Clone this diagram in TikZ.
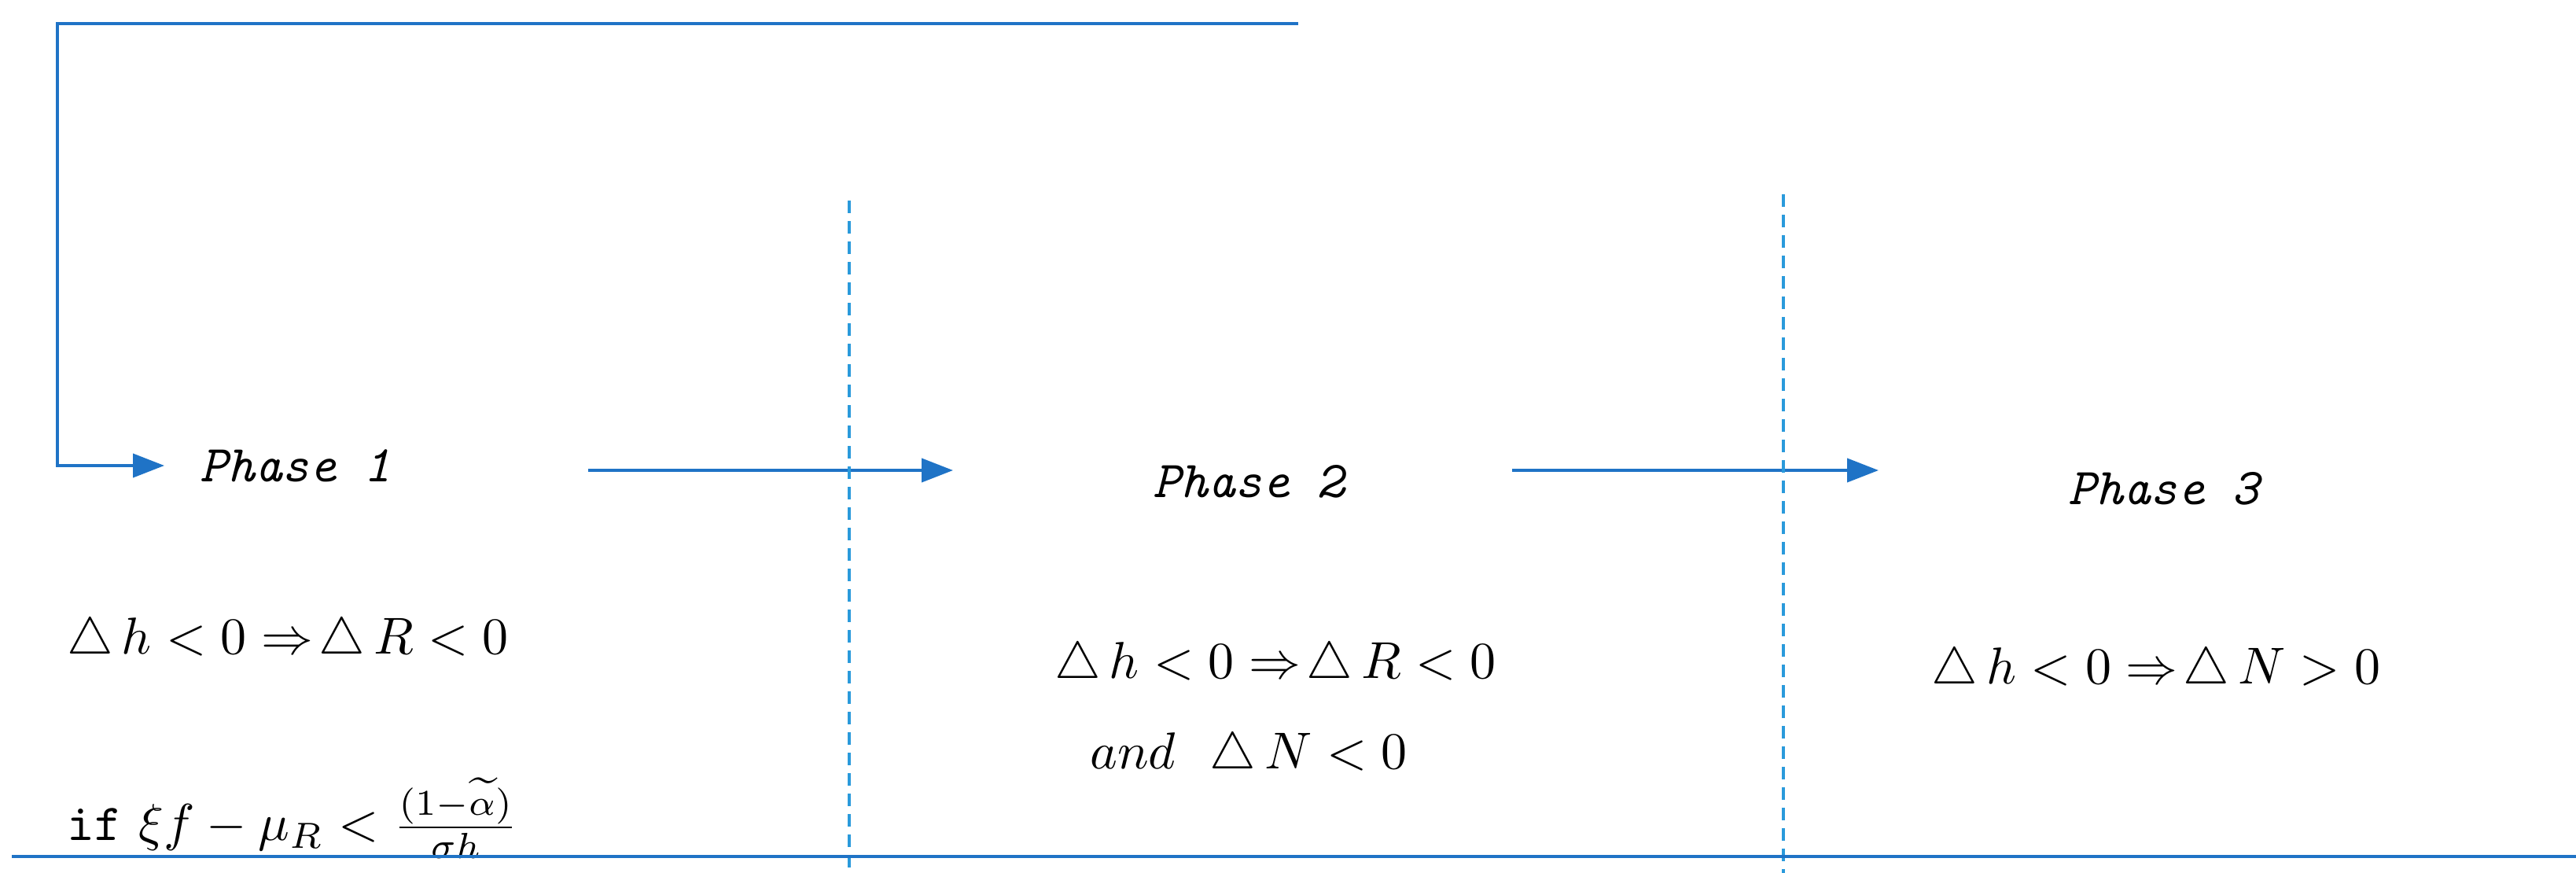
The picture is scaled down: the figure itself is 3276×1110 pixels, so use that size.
\documentclass[tikz,border=0pt]{standalone}
\usetikzlibrary{arrows.meta}
\definecolor{ln}{HTML}{1F73C6}
\definecolor{dl}{HTML}{2A9ADB}
\newcommand{\bigeq}[1]{\scalebox{6.6}{#1}}
\begin{document}
\begin{tikzpicture}[x=1pt,y=-1pt,
  conn/.style={ln,line width=4pt},
  arr/.style={conn,-{Triangle[length=40pt,width=30pt]}},
  dashln/.style={dl,line width=4pt,dash pattern=on 16pt off 10pt},
  ph/.style={font=\fontsize{66}{70}\selectfont\ttfamily\itshape},
  eq/.style={font=\normalsize}]
\useasboundingbox (0,0) rectangle (3276,1110);
\node[ph] (p1) at (376,592) {Phase 1};
\node[ph] (p2) at (1588,612) {Phase 2};
\node[ph] (p3) at (2752,621) {Phase 3};
\node[eq] (e1) at (366,815) {\bigeq{$\triangle\, h<0\Rightarrow\!\triangle\, R<0$}};
\node[eq] (e2) at (372,1040) {\bigeq{\texttt{if} $\xi f-\mu_R<\frac{(1-\widetilde{\alpha})}{\sigma h}$}};
\node[eq] (e3) at (1622,846) {\bigeq{$\triangle\, h<0\Rightarrow\!\triangle\, R<0$}};
\node[eq] (e4) at (1588,961) {\bigeq{$and\ \ \triangle\, N<0$}};
\node[eq] (e5) at (2742,853) {\bigeq{$\triangle\, h<0\Rightarrow\!\triangle\, N>0$}};
\coordinate (t1) at (1651,30);
\coordinate (t0) at (73,30);
\coordinate (c1) at (73,592);
\coordinate (a1) at (209,592);
\draw[arr] (t1) -- (t0) -- (c1) -- (a1);
\coordinate (b1) at (748,598); \coordinate (b2) at (1212,598);
\draw[arr] (b1) -- (b2);
\coordinate (d1) at (1923,598); \coordinate (d2) at (2389,598);
\draw[arr] (d1) -- (d2);
\coordinate (v1) at (1080,255); \coordinate (v1b) at (1080,1110);
\draw[dashln] (v1) -- (v1b);
\coordinate (v2) at (2268,247); \coordinate (v2b) at (2268,1110);
\draw[dashln] (v2) -- (v2b);
\coordinate (h0) at (15,1089); \coordinate (h1) at (3276,1089);
\draw[conn] (h0) -- (h1);
\end{tikzpicture}
\end{document}
